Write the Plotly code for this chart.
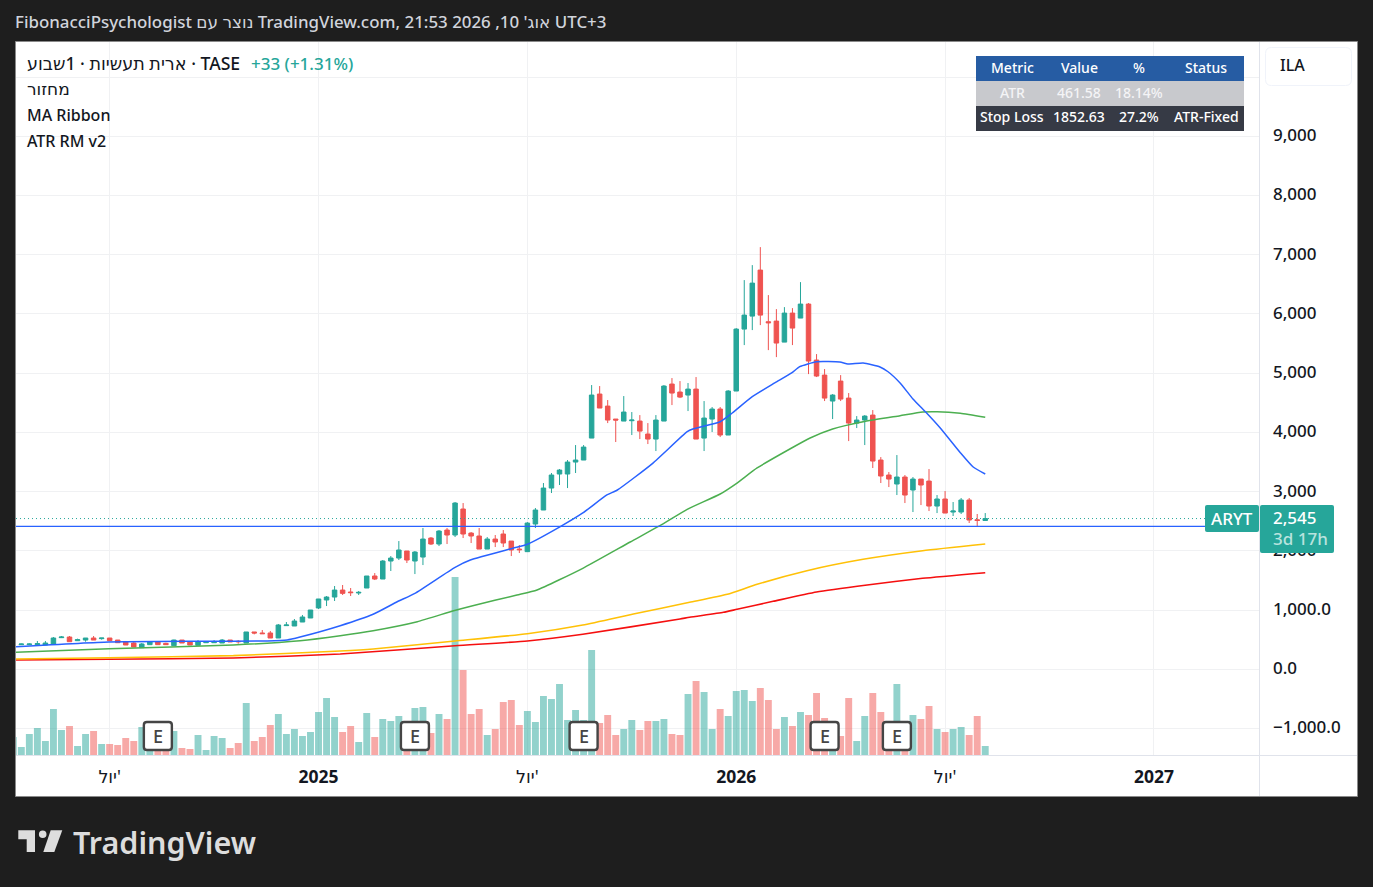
import plotly.graph_objects as go

# ---------- data ----------
bar_index = list(range(122))

opens = [376,416,416,416,410,427,534,545,483,494,528,517,528,494,461,444,365,416,461,438,
         399,494,466,404,449,449,444,494,472,444,630,613,613,528,737,731,798,866,1035,1170,
         1220,1338,1305,1288,1372,1575,1524,1828,1878,1997,1828,1895,2216,2115,2351,2267,2706,2300,2250,2030,
         2199,2284,2165,2030,1986,2453,2689,3060,3297,3297,3499,3533,3904,4647,4444,4225,4191,4197,4191,3972,
         3887,4191,4816,4681,4630,4731,3904,4225,4394,3955,4698,5744,5963,6740,5868,5879,5524,6014,5930,6166,
         5221,4967,4529,4866,4579,4157,4208,4292,3533,3280,3128,3246,3027,3212,3178,2756,2875,2655,2655,2858,
         2525,2512]
highs = [420,433,438,478,478,545,562,562,517,528,562,528,528,494,478,461,444,470,461,449,
         500,494,466,494,470,494,511,494,494,630,630,663,647,765,798,849,917,1001,1187,1237,
         1406,1423,1372,1322,1575,1625,1845,1912,2165,1997,1997,2385,2233,2351,2385,2824,2807,2317,2385,2233,
         2267,2351,2165,2098,2486,2723,3145,3314,3381,3533,3786,3786,4799,4782,4546,4225,4613,4343,4292,4157,
         4292,4799,4917,4866,4833,4934,4529,4428,4428,4714,5761,6571,6824,7128,6318,6081,6115,6098,6537,6183,
         5322,5069,4647,4967,4664,4275,4292,4377,3583,3330,3617,3280,3246,3212,3381,2942,3010,2824,2892,2892,
         2622,2638]
lows = [370,410,410,410,410,427,528,466,483,466,494,500,483,449,410,376,365,416,416,416,
        399,444,410,404,449,449,444,461,432,444,590,601,528,528,737,731,798,866,1018,1068,
        1153,1254,1237,1254,1372,1507,1524,1659,1845,1794,1608,1760,2098,2081,2115,2233,2216,2132,2030,2030,
        2064,2064,1912,1963,1980,2385,2689,2976,3111,3060,3314,3533,3904,4411,4157,3837,4191,3955,3887,3803,
        3685,4191,4461,4579,4360,3887,3685,4006,3921,3955,4698,5474,5727,5811,5389,5271,5524,5474,5930,4984,
        4934,4529,4225,4529,3853,4073,3786,3398,3145,3077,2942,2807,2655,2773,2672,2638,2638,2588,2622,2470,
        2419,2512]
closes = [410,427,427,433,444,528,545,466,500,528,494,528,483,449,410,376,427,461,416,416,
          494,444,410,461,461,461,494,461,466,630,613,601,528,748,748,815,883,1001,1187,1220,
          1338,1282,1294,1299,1575,1524,1828,1878,2014,1845,1980,2199,2115,2334,2267,2807,2284,2250,2030,2199,
          2149,2132,2014,2019,2469,2689,3060,3280,3364,3499,3533,3752,4630,4411,4208,4208,4343,4208,4022,3887,
          4208,4782,4664,4596,4731,3887,4242,4394,3955,4698,5744,5980,6520,5980,5851,5508,6014,5761,6166,5204,
          4951,4579,4630,4562,4157,4208,4275,3516,3263,3212,3246,2942,3212,3111,2756,2875,2638,2672,2858,2520,
          2512,2545]
volumes = [18,8,21,27,14,46,25,29,9,21,24,11,11,10,17,14,28,20,20,15,
           24,7,6,20,5,19,17,7,12,52,14,18,30,41,21,26,19,23,43,57,
           38,23,29,13,42,18,36,34,39,30,47,48,22,41,36,178,85,41,46,20,
           26,53,55,30,44,33,59,56,71,35,45,35,105,32,40,20,26,35,25,34,
           34,36,21,20,61,74,63,26,46,39,64,65,54,67,55,26,38,29,43,40,
           62,37,15,19,57,14,39,62,43,25,71,20,40,36,49,26,23,26,28,20,
           39,9]

ma1_idx = [0.34,11.9,23.25,31.6,34.1,35.7,40.7,44.8,47.8,50,55,56.9,62.2,64,68.1,70.9,73.9,75.2,79.6,83.9,84.6,88,89.5,92,94.8,96.9,97.9,100,102.9,103.9,105.8,107.9,108.9,110.4,112,113.7,115.4,117.9,119.5,121]
ma1_val = [382,461,473,478,495,545,736,929,1141,1283,1722,1845,2043,2110,2408,2639,2943,3027,3478,4012,4057,4180,4327,4602,4834,5003,5109,5193,5188,5154,5171,5104,5024,4834,4564,4327,4074,3657,3415,3297]
ma2_idx = [0.34,11.9,27.4,35.7,40.7,44.8,50.3,54.7,57.2,62.7,65.2,70.9,76.8,80.5,83.9,88,90.1,92.6,96.9,99.2,102,105.8,110.4,113.2,115,117.9,121]
ma2_val = [287,348,410,483,567,652,804,984,1074,1254,1339,1705,2149,2424,2701,2960,3145,3399,3736,3905,4057,4180,4282,4344,4349,4322,4255]
ma3_idx = [0.34,11.9,27.4,40.7,44.8,55,64,70.9,77.2,84.2,88.9,92.6,98.8,105.8,113.2,121]
ma3_val = [174,196,230,309,343,478,601,748,934,1131,1266,1435,1665,1857,2002,2115]
ma4_idx = [0.34,11.9,27.4,40.7,55,64,70.9,83,84.2,88.4,90.1,94.6,100,106.3,113.2,121]
ma4_val = [157,169,191,258,398,478,591,849,878,962,1013,1148,1305,1423,1536,1631]

earnings_idx = [18,50,71,101,110]
last_price = 2545
stop_line = 2414

x_tick_idx = [12,38,64,90,116,142]
x_tick_txt = ["יול'", "<b>2025</b>", "יול'", "<b>2026</b>", "יול'", "<b>2027</b>"]
y_tick_val = [-1000,0,1000,2000,3000,4000,5000,6000,7000,8000,9000,10000]
y_tick_txt = ["−1,000.0","0.0","1,000.0","2,000","3,000","4,000","5,000","6,000","7,000","8,000","9,000",""]

table_cols = [["Metric","ATR","Stop Loss"],["Value","461.58","1852.63"],["%","18.14%","27.2%"],["Status","","ATR-Fixed"]]

title_text = "FibonacciPsychologist נוצר עם TradingView.com, אוג' 10, 2026 21:53 UTC+3"
legend_lines = ["ארית תעשיות · 1שבוע · TASE", "מחזור", "MA Ribbon", "ATR RM v2"]
change_text = "+33 (+1.31%)"

# ---------- style ----------
UP, DOWN = "#26a69a", "#ef5350"
UP_V, DOWN_V = "rgba(38,166,154,0.5)", "rgba(239,83,80,0.5)"
BG = "#1e1e1e"
FONT = "Noto Sans, DejaVu Sans, sans-serif"
TXT = "#131722"
GRID = "#f0f1f3"
W, H = 1373, 887
L, R, T, B = 16, 1259, 42, 755

def px(x): return (x - L) / (R - L)
def py(y): return (B - y) / (B - T)

def rrect(x0, y0, x1, y1, r=3):
    a, b, c, d = px(x0), px(x1), py(y0), py(y1)
    rx, ry = r / (R - L), r / (B - T)
    return (f"M {a+rx} {c} L {b-rx} {c} Q {b} {c} {b} {c-ry} L {b} {d+ry} Q {b} {d} {b-rx} {d} "
            f"L {a+rx} {d} Q {a} {d} {a} {d+ry} L {a} {c-ry} Q {a} {c} {a+rx} {c} Z")

def poly(pts):
    return "M " + " L ".join(f"{px(x)} {py(y)}" for x, y in pts) + " Z"

fig = go.Figure()

fig.add_trace(go.Bar(
    x=bar_index, y=volumes, yaxis="y", xaxis="x", width=0.86,
    marker=dict(color=[UP_V if c >= o else DOWN_V for o, c in zip(opens, closes)], line_width=0),
    showlegend=False, hoverinfo="skip"))

for xs, ys, col, wd in [(ma4_idx, ma4_val, "#f50f0f", 1.6), (ma3_idx, ma3_val, "#ffc107", 1.6),
                        (ma2_idx, ma2_val, "#4caf50", 1.5), (ma1_idx, ma1_val, "#2962ff", 1.5)]:
    fig.add_trace(go.Scatter(x=xs, y=ys, mode="lines", line=dict(color=col, width=wd, shape="spline", smoothing=0.5),
                             yaxis="y2", xaxis="x", showlegend=False, hoverinfo="skip"))

fig.add_trace(go.Candlestick(
    x=bar_index, open=opens, high=highs, low=lows, close=closes, yaxis="y2", xaxis="x",
    increasing=dict(line=dict(color=UP, width=1), fillcolor=UP),
    decreasing=dict(line=dict(color=DOWN, width=1), fillcolor=DOWN),
    whiskerwidth=0, showlegend=False, hoverinfo="skip"))

shapes = []
shapes.append(dict(type="rect", xref="paper", yref="paper", x0=px(15.5), x1=px(1357.5), y0=py(796.5), y1=py(41.5),
                   fillcolor="white", line=dict(color="#8a8a8a", width=1), layer="below"))
shapes.append(dict(type="line", xref="paper", yref="paper", x0=px(1259.5), x1=px(1259.5), y0=py(796), y1=py(42),
                   line=dict(color="#e0e3eb", width=1), layer="below"))
shapes.append(dict(type="line", xref="paper", yref="paper", x0=px(16), x1=px(1357), y0=py(755.5), y1=py(755.5),
                   line=dict(color="#e0e3eb", width=1), layer="below"))
shapes.append(dict(type="line", xref="paper", yref="y2", x0=0, x1=px(1206), y0=stop_line, y1=stop_line,
                   line=dict(color="#2962ff", width=1.2), layer="above"))
shapes.append(dict(type="line", xref="paper", yref="y2", x0=0, x1=px(1206), y0=last_price, y1=last_price,
                   line=dict(color=UP, width=1, dash="1px,3px"), layer="above"))
for y0, y1, col in [(56, 81, "#265ca3"), (81, 106, "#c8c9cd"), (106, 131, "#363a45")]:
    shapes.append(dict(type="rect", xref="paper", yref="paper", x0=px(976), x1=px(1244), y0=py(y1), y1=py(y0),
                       fillcolor=col, line_width=0, layer="above"))
shapes.append(dict(type="path", xref="paper", yref="paper", path=rrect(1265.5, 47.5, 1351.5, 85.5, 6),
                   fillcolor="white", line=dict(color="#f0f3fa", width=1), layer="above"))
shapes.append(dict(type="path", xref="paper", yref="paper", path=rrect(1205, 505, 1259, 532, 2),
                   fillcolor=UP, line_width=0, layer="above"))
shapes.append(dict(type="path", xref="paper", yref="paper", path=rrect(1260, 505, 1334, 553, 2),
                   fillcolor=UP, line_width=0, layer="above"))
half = 14
box = (f"M {-half+3} {half} L {half-3} {half} Q {half} {half} {half} {half-3} L {half} {-half+3} "
       f"Q {half} {-half} {half-3} {-half} L {-half+3} {-half} Q {-half} {-half} {-half} {-half+3} "
       f"L {-half} {half-3} Q {-half} {half} {-half+3} {half} Z")
for i in earnings_idx:
    shapes.append(dict(type="path", xref="x", yref="paper", xsizemode="pixel", ysizemode="pixel",
                       xanchor=i, yanchor=py(736), path=box, fillcolor="white",
                       line=dict(color="#454545", width=2.4), layer="above"))
shapes.append(dict(type="path", xref="paper", yref="paper",
                   path=poly([(18.3,830.3),(35,830.3),(35,852),(26.7,852),(26.7,839.3),(18.3,839.3)]),
                   fillcolor="#dddddd", line_width=0, layer="above"))
shapes.append(dict(type="path", xref="paper", yref="paper",
                   path=poly([(50.7,830.3),(62.3,830.3),(54.3,852),(43.3,852)]),
                   fillcolor="#dddddd", line_width=0, layer="above"))
shapes.append(dict(type="circle", xref="paper", yref="paper", x0=px(38.9), x1=px(46.5), y0=py(838.1), y1=py(830.5),
                   fillcolor="#dddddd", line_width=0, layer="above"))

ann = []
def text(x, y, s, size=17, color=TXT, anchor="left", weight=500):
    ann.append(dict(xref="paper", yref="paper", x=px(x), y=py(y), text=s, showarrow=False, xanchor=anchor,
                    yanchor="middle", align=anchor, borderpad=0,
                    font=dict(family=FONT, size=size, color=color, weight=weight)))

text(14, 22, title_text, 16.9, "#d1d4dc")
for yy, s, fs in zip([63, 89, 115, 141], legend_lines, [17.6, 17, 16, 16]):
    text(26, yy, s, fs)
text(250, 63, change_text, 17, UP)
text(1279, 65.5, "ILA", 16)
col_x = [1012, 1079, 1139, 1206]
row_y = [67, 92, 117]
row_col = ["white", "#f4f4f6", "white"]
for cx, col in zip(col_x, table_cols):
    for ry, cell, rc in zip(row_y, col, row_col):
        if cell:
            text(cx, ry, cell, 14, rc, "center")
text(1232, 518, "ARYT", 17, "white", "center")
text(1272, 517, f"{last_price:,}", 17, "white")
text(1272, 538, "3d 17h", 17, "#b9e3de")
text(72, 842, "TradingView", 30.5, "#dddddd", weight=600)
for i in earnings_idx:
    ann.append(dict(xref="x", yref="paper", x=i, y=py(736), text="E", showarrow=False, xanchor="center",
                    yanchor="middle", font=dict(family=FONT, size=18, color="#454545", weight=500)))

fig.update_layout(
    width=W, height=H, autosize=False,
    margin=dict(l=L, r=W - R, t=T, b=H - B, pad=0),
    paper_bgcolor=BG, plot_bgcolor="rgba(0,0,0,0)",
    showlegend=False, barmode="overlay", boxgap=0.2, hovermode=False,
    shapes=shapes, annotations=ann,
    xaxis=dict(range=[0.34, 155.08], tickmode="array", tickvals=x_tick_idx, ticktext=x_tick_txt,
               showgrid=True, gridcolor=GRID, gridwidth=1, zeroline=False, ticks="", anchor="y",
               tickfont=dict(family=FONT, size=17.5, color=TXT), ticklabelstandoff=9,
               rangeslider=dict(visible=False), showline=False, fixedrange=True),
    yaxis=dict(range=[0, 713], visible=False, showgrid=False, zeroline=False, fixedrange=True),
    yaxis2=dict(range=[-1447, 10591], overlaying="y", side="right", anchor="x", tickmode="array",
                tickvals=y_tick_val, ticktext=y_tick_txt, showgrid=True, gridcolor=GRID, gridwidth=1,
                zeroline=False, ticks="", showline=False, fixedrange=True, ticklabelstandoff=13, ticklabelshift=-1,
                tickfont=dict(family=FONT, size=17, color=TXT, weight=500)),
)

fig.write_html("out.html", config=dict(displayModeBar=False),
               post_script="document.body.style.margin='0';document.body.style.background='#1e1e1e';")
